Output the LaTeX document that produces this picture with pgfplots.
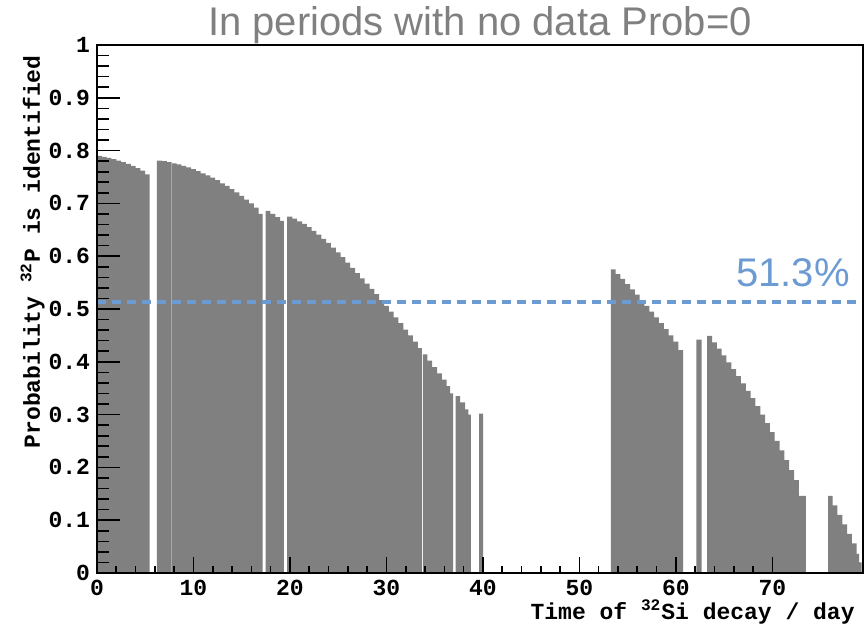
\documentclass[border=0pt]{standalone}
\usepackage{fontspec}
\usepackage{pgfplots}
\pgfplotsset{compat=1.18}
\newfontfamily\sansf{Liberation Sans}
\newfontfamily\monof{Liberation Mono}
\definecolor{barg}{RGB}{128,128,128}
\definecolor{tgray}{RGB}{128,128,128}
\definecolor{lblue}{RGB}{108,155,211}
\begin{document}
\begin{tikzpicture}
\path[use as bounding box] (-48.5pt,-26pt) rectangle (384.5pt,286.5pt);
\begin{axis}[
  at={(0pt,0pt)}, anchor=south west,
  scale only axis, width=383pt, height=264pt,
  xmin=0, xmax=79.4, ymin=0, ymax=1,
  axis on top, clip=false,
  xtick={0,10,20,30,40,50,60,70},
  xticklabels={0,10,20,30,40,50,60,70},
  ytick={0,0.1,0.2,0.3,0.4,0.5,0.6,0.7,0.8,0.9,1},
  yticklabels={0,0.1,0.2,0.3,0.4,0.5,0.6,0.7,0.8,0.9,1},
  minor x tick num=4, minor y tick num=4,
  xtick pos=left, ytick pos=left,
  tick align=inside,
  xtick style={/pgfplots/major tick length=8pt, /pgfplots/minor tick length=3.5pt, black, line width=0.8pt},
  ytick style={/pgfplots/major tick length=11.5pt, /pgfplots/minor tick length=6pt, black, line width=0.8pt},
  tick label style={font=\monof\bfseries\fontsize{11.5}{12}\selectfont},
  axis line style={line width=1.1pt},
]
% segment 1
\addplot[fill=barg, draw=none, const plot mark left] coordinates {
(0,0.790) (0.5,0.788) (1,0.786) (1.5,0.784) (2,0.781) (2.5,0.778) (3,0.775) (3.5,0.771) (4,0.767) (4.5,0.762) (5,0.755) (5.45,0.755)} \closedcycle;
% segment 2a
\addplot[fill=barg, draw=none, const plot mark left] coordinates {
(6.2,0.781) (6.75,0.780) (7.25,0.778) (7.73,0.778)} \closedcycle;
% segment 2b
\addplot[fill=barg, draw=none, const plot mark left] coordinates {
(7.77,0.776) (8.25,0.774) (8.75,0.771) (9.25,0.768) (9.75,0.765) (10.25,0.761) (10.75,0.757) (11.25,0.753) (11.75,0.749) (12.25,0.744) (12.75,0.738) (13.25,0.733) (13.75,0.727) (14.25,0.721) (14.75,0.714) (15.25,0.707) (15.75,0.700) (16.25,0.692) (16.75,0.680) (17.18,0.680)} \closedcycle;
% segment 3
\addplot[fill=barg, draw=none, const plot mark left] coordinates {
(17.48,0.686) (17.98,0.680) (18.48,0.674) (18.98,0.667) (19.38,0.667)} \closedcycle;
% segment 4a
\addplot[fill=barg, draw=none, const plot mark left] coordinates {
(19.72,0.675) (20.25,0.671) (20.75,0.666) (21.25,0.661) (21.75,0.655) (22.25,0.648) (22.75,0.641) (23.25,0.633) (23.75,0.625) (24.25,0.616) (24.75,0.607) (25.25,0.598) (25.75,0.588) (26.25,0.578) (26.75,0.568) (27.25,0.558) (27.75,0.548) (28.25,0.538) (28.75,0.528) (29.25,0.517) (29.75,0.506) (30.25,0.495) (30.75,0.484) (31.25,0.473) (31.75,0.461) (32.25,0.450) (32.75,0.438) (33.25,0.426) (33.68,0.426)} \closedcycle;
% segment 4b
\addplot[fill=barg, draw=none, const plot mark left] coordinates {
(33.78,0.414) (34.25,0.402) (34.75,0.390) (35.25,0.378) (35.75,0.366) (36.25,0.354) (36.6,0.340) (36.92,0.340)} \closedcycle;
% segment 5
\addplot[fill=barg, draw=none, const plot mark left] coordinates {
(37.17,0.335) (37.65,0.323) (38.15,0.310) (38.5,0.300) (38.76,0.300)} \closedcycle;
% segment 6
\addplot[fill=barg, draw=none, const plot mark left] coordinates {
(39.6,0.302) (40.03,0.302)} \closedcycle;
% segment 7
\addplot[fill=barg, draw=none, const plot mark left] coordinates {
(53.26,0.575) (53.75,0.566) (54.25,0.557) (54.75,0.547) (55.25,0.537) (55.75,0.527) (56.25,0.517) (56.75,0.506) (57.25,0.495) (57.75,0.484) (58.25,0.473) (58.75,0.462) (59.25,0.450) (59.75,0.438) (60.25,0.422) (60.75,0.422)} \closedcycle;
% segment 8
\addplot[fill=barg, draw=none, const plot mark left] coordinates {
(62.14,0.442) (62.66,0.442)} \closedcycle;
% segment 9
\addplot[fill=barg, draw=none, const plot mark left] coordinates {
(63.24,0.449) (63.75,0.437) (64.25,0.425) (64.75,0.412) (65.25,0.399) (65.75,0.386) (66.25,0.373) (66.75,0.359) (67.25,0.345) (67.75,0.331) (68.25,0.316) (68.75,0.300) (69.25,0.284) (69.75,0.267) (70.25,0.250) (70.75,0.232) (71.25,0.214) (71.75,0.195) (72.25,0.176) (72.75,0.146) (73.47,0.146)} \closedcycle;
% segment 10
\addplot[fill=barg, draw=none, const plot mark left] coordinates {
(75.78,0.146) (76.25,0.128) (76.75,0.110) (77.25,0.092) (77.75,0.074) (78.25,0.056) (78.75,0.036) (79.0,0.020) (79.27,0.020)} \closedcycle;
% average line
\addplot[lblue, line width=1.7pt, dash pattern=on 4.5pt off 3pt] coordinates {(0,0.513) (79.4,0.513)};
\end{axis}
\node[anchor=base, inner sep=0pt, text=tgray, font=\sansf\fontsize{20}{24}\selectfont] at (191.5pt,268.7pt) {In periods with no data Prob=0};
\node[anchor=base east, inner sep=0pt, text=lblue, font=\sansf\fontsize{20}{24}\selectfont] at (376.5pt,143pt) {51.3\%};
\node[anchor=base east, inner sep=0pt, font=\monof\bfseries\fontsize{11.5}{12}\selectfont] at (379pt,-23.3pt) {Time of \textsuperscript{32}Si decay / day};
\node[rotate=90, anchor=base east, inner sep=0pt, font=\monof\bfseries\fontsize{11.5}{12}\selectfont] at (-28.5pt,259pt) {Probability \textsuperscript{32}P is identified};
\end{tikzpicture}
\end{document}
